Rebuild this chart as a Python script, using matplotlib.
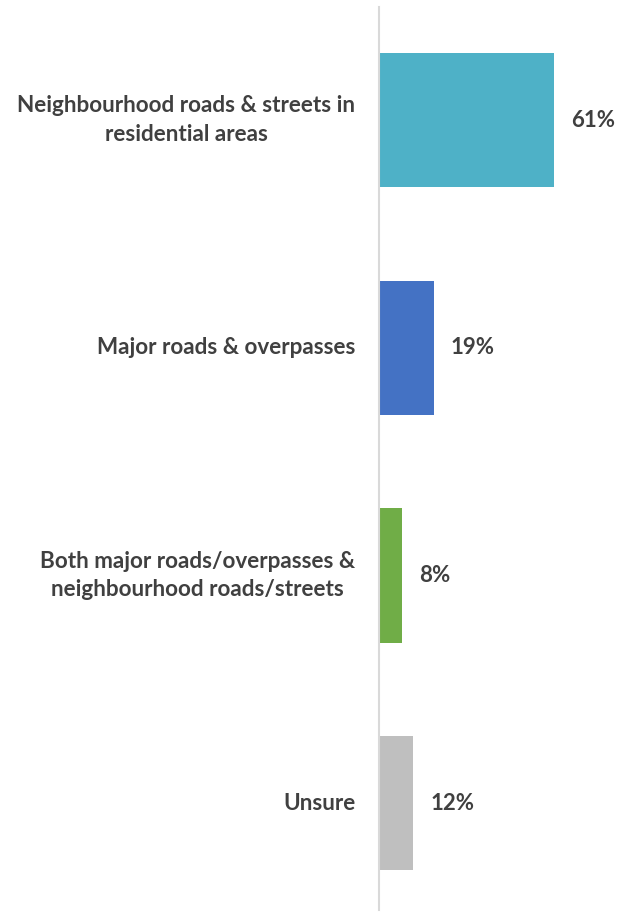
import matplotlib
matplotlib.use("Agg")
import matplotlib.pyplot as plt

categories = ["Neighbourhood roads & streets in\nresidential areas",
              "Major roads & overpasses",
              "Both major roads/overpasses &\nneighbourhood roads/streets",
              "Unsure"]
values = [61, 19, 8, 12]
colors = ["#4EB1C7", "#4472C4", "#70AD47", "#BFBFBF"]

plt.rcParams["font.family"] = ["Lato", "DejaVu Sans"]

fig = plt.figure(figsize=(6.21, 9.13), dpi=100)
ax = fig.add_axes([379/621, 3/913, 242/621, 903/913])

pos = list(range(len(values)))
ax.barh(pos, values, height=0.59, color=colors)
ax.set_xlim(0, 242/2.87)
ax.set_ylim(3.47, -0.497)

for p, v, name in zip(pos, values, categories):
    ax.text(v + 6, p, f"{v}%", va="center", ha="left",
            fontsize=16, fontweight="bold", color="#404040")
    ax.annotate(name, xy=(0, p), xytext=(-17, 0), textcoords="offset points",
                va="center", ha="right", multialignment="center",
                fontsize=16.2, fontweight="bold", color="#404040",
                linespacing=1.45)

for s in ["top", "right", "bottom"]:
    ax.spines[s].set_visible(False)
ax.spines["left"].set_color("#D9D9D9")
ax.spines["left"].set_linewidth(1.5)
ax.set_xticks([])
ax.set_yticks([])

fig.savefig("out.png", dpi=100)
